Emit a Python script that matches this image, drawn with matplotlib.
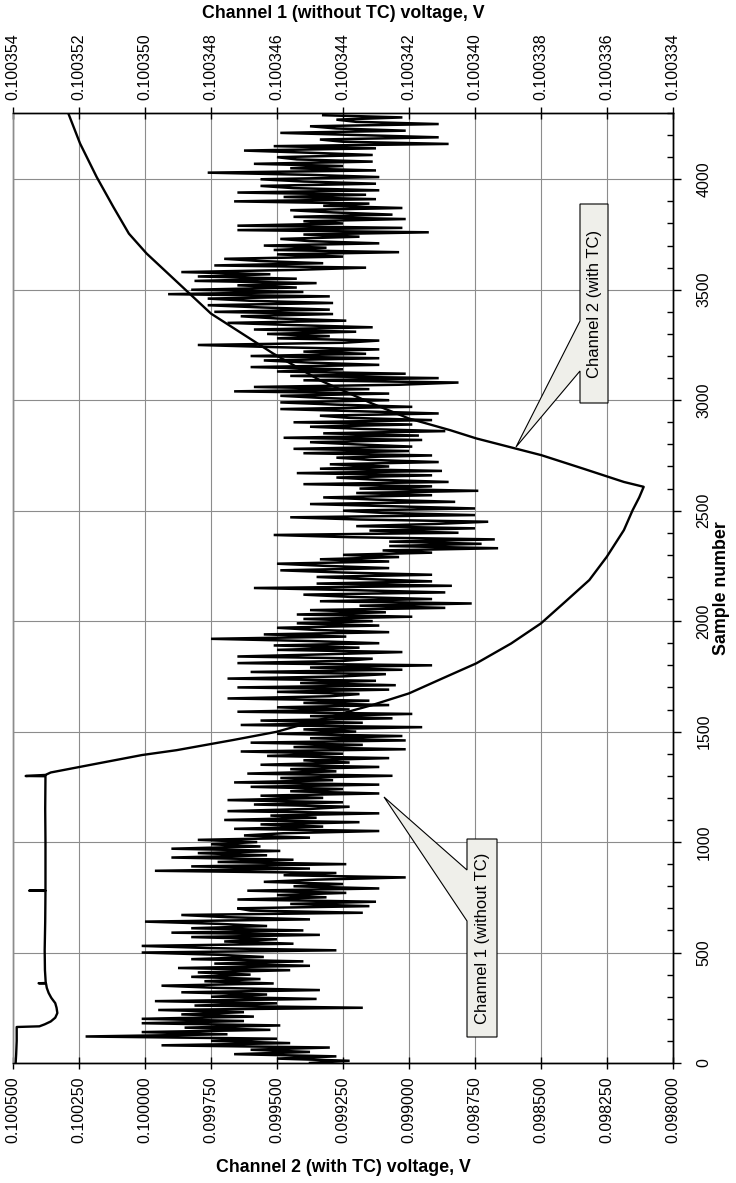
import numpy as np
import matplotlib
matplotlib.use("Agg")
import matplotlib.pyplot as plt
from matplotlib.patches import Polygon

plt.rcParams["font.family"] = ["Liberation Sans", "DejaVu Sans"]

W, H = 736, 1183

# channel 1 (without TC): one reading every 10 samples, in uV above 0.1003 V
ch1_step = 10
ch1_uv = [
    45.0, 43.8, 46.0, 44.2, 47.3, 45.0, 46.8, 44.4, 49.5, 45.6,
    48.0, 46.0, 51.8, 47.5, 50.1, 46.2, 48.8, 45.9, 50.1, 47.0,
    50.1, 46.7, 48.9, 47.0, 49.6, 43.4, 48.5, 46.0, 49.7, 44.8,
    48.0, 46.3, 48.9, 44.7, 47.8, 49.5, 46.1, 48.2, 46.5, 48.6,
    46.8, 48.4, 45.6, 49.0, 45.0, 47.9, 45.2, 48.6, 46.4, 47.8,
    50.1, 44.2, 48.0, 50.1, 45.5, 47.6, 46.0, 48.6, 44.7, 49.2,
    45.2, 48.6, 46.3, 47.8, 50.0, 45.0, 47.5, 48.9, 43.4, 46.8,
    47.2, 43.2, 45.6, 43.0, 47.2, 44.5, 46.0, 43.9, 46.9, 42.9,
    45.5, 44.0, 46.4, 44.8, 42.1, 45.8, 44.2, 49.7, 45.0, 48.6,
    43.9, 47.8, 45.5, 49.2, 46.3, 48.4, 45.9, 49.2, 46.5, 48.0,
    46.6, 48.4, 45.0, 47.0, 45.8, 42.9, 47.3, 44.6, 46.5, 43.5,
    47.6, 44.8, 46.2, 42.9, 47.5, 45.0, 43.8, 46.7, 44.0, 47.5,
    44.6, 46.5, 42.9, 45.6, 44.0, 46.8, 42.9, 47.3, 44.3, 45.9,
    42.5, 46.9, 44.2, 45.6, 42.9, 46.5, 43.8, 45.2, 42.6, 46.3,
    44.0, 47.1, 42.1, 45.5, 43.4, 46.8, 42.1, 45.0, 42.2, 46.0,
    43.6, 45.2, 41.6, 47.1, 43.4, 46.5, 42.5, 45.0, 41.9, 47.2,
    43.8, 46.0, 42.6, 45.2, 43.2, 47.5, 44.4, 43.5, 46.0, 42.6,
    47.2, 42.4, 45.3, 43.0, 47.5, 44.0, 42.7, 46.8, 42.2, 45.0,
    41.3, 47.2, 44.0, 43.1, 47.2, 44.5, 42.2, 46.0, 43.5, 46.1,
    42.9, 45.0, 48.0, 43.9, 46.4, 42.6, 44.8, 46.0, 42.9, 45.4,
    43.1, 45.2, 41.9, 45.4, 42.7, 45.0, 40.9, 43.5, 40.1, 44.7,
    41.3, 43.8, 45.2, 40.9, 43.6, 46.7, 40.7, 44.8, 41.3, 43.2,
    44.8, 41.3, 44.0, 45.9, 42.6, 44.5, 46.0, 42.6, 44.7, 42.3,
    44.0, 41.3, 42.8, 39.3, 42.6, 39.8, 42.6, 39.4, 43.8, 46.1,
    40.5, 43.2, 40.0, 43.6, 41.2, 39.6, 43.5, 45.6, 40.0, 42.8,
    44.0, 40.0, 42.5, 45.0, 40.6, 43.0, 44.6, 41.3, 43.6, 39.9,
    43.5, 41.3, 45.2, 40.8, 43.0, 44.2, 41.3, 45.4, 41.0, 44.7,
    42.6, 44.4, 41.1, 43.2, 44.2, 41.3, 45.2, 42.0, 45.5, 41.9,
    43.6, 45.0, 41.6, 45.8, 41.7, 44.6, 40.9, 43.4, 45.0, 41.9,
    45.5, 41.3, 43.8, 44.7, 41.1, 43.5, 45.9, 41.9, 44.2, 45.9,
    42.6, 44.6, 45.9, 42.6, 47.3, 43.2, 46.7, 42.3, 40.5, 45.2,
    41.1, 45.6, 42.1, 46.0, 44.0, 46.8, 42.9, 45.0, 46.4, 42.9,
    46.8, 43.3, 45.2, 42.9, 46.0, 48.4, 44.0, 42.9, 46.0, 44.4,
    46.3, 43.6, 46.7, 43.1, 45.5, 47.5, 43.9, 46.0, 47.1, 44.3,
    47.9, 44.4, 46.5, 48.1, 44.3, 46.8, 48.1, 44.4, 49.3, 45.2,
    48.6, 45.4, 47.2, 44.8, 48.5, 45.4, 48.4, 46.2, 48.9, 45.4,
    43.3, 47.9, 44.6, 46.5, 47.6, 44.0, 46.0, 42.3, 46.1, 44.5,
    46.4, 42.9, 45.0, 45.9, 43.5, 45.2, 41.4, 47.2, 42.2, 47.2,
    44.0, 45.2, 42.1, 45.5, 42.5, 44.3, 45.6, 42.2, 44.6, 43.2,
    47.3, 43.0, 45.8, 43.3, 47.2, 42.9, 45.5, 46.5, 43.0, 45.2,
    46.5, 42.9, 45.0, 48.1, 43.0, 45.6, 44.0, 46.7, 43.1, 45.4,
    46.0, 43.1, 45.0, 47.0, 43.0, 46.1, 40.8, 44.0, 44.7, 41.1,
    43.5, 45.9, 42.1, 44.2, 45.0, 41.1, 43.6, 44.2, 42.2, 44.6,
]

# channel 2 (with TC): sample number and voltage, V
ch2_sample = [
    0, 40, 100, 163, 166, 175, 188, 205, 226, 250, 271, 295, 317, 340,
    360, 361, 362, 420, 511, 640, 779, 780, 781, 1000, 1150, 1298, 1299,
    1304, 1315, 1356, 1394, 1416, 1462, 1499, 1560, 1620, 1673, 1741,
    1809, 1899, 1990, 2088, 2186, 2291, 2412, 2502, 2560, 2608, 2630,
    2691, 2751, 2827, 2864, 2917, 2985, 3090, 3211, 3392, 3664,
    3754, 3875, 4010, 4162, 4300,
]
ch2_volt = [
    0.100490, 0.100488, 0.100486, 0.100486, 0.100400, 0.100380, 0.100357,
    0.100340, 0.100332, 0.100335, 0.100340, 0.100355, 0.100365, 0.100372,
    0.100375, 0.100403, 0.100376, 0.100379, 0.100380, 0.100378, 0.100377,
    0.100439, 0.100377, 0.100377, 0.100378, 0.100377, 0.100452, 0.100377,
    0.100357, 0.100178, 0.100011, 0.099880, 0.099666, 0.099502, 0.099320,
    0.099140, 0.099000, 0.098873, 0.098745, 0.098613, 0.098500, 0.098408,
    0.098317, 0.098251, 0.098186, 0.098153, 0.098128, 0.098111, 0.098186,
    0.098342, 0.098498, 0.098745, 0.098843, 0.099000, 0.099140, 0.099337,
    0.099514, 0.099750, 0.099994, 0.100061, 0.100120, 0.100183,
    0.100246, 0.100291,
]

ch2_ticks = [0.100500, 0.100250, 0.100000, 0.099750, 0.099500, 0.099250,
             0.099000, 0.098750, 0.098500, 0.098250, 0.098000]
ch1_ticks = [0.100354, 0.100352, 0.100350, 0.100348, 0.100346, 0.100344,
             0.100342, 0.100340, 0.100338, 0.100336, 0.100334]
sample_ticks = [0, 500, 1000, 1500, 2000, 2500, 3000, 3500, 4000]
sample_max = 4300

ch1_samples = np.arange(len(ch1_uv)) * ch1_step
ch1_volt = 0.1003 + np.array(ch1_uv) * 1e-6

fig = plt.figure(figsize=(W / 100, H / 100), dpi=100)
fig.patch.set_facecolor("white")

# plot frame in pixels: left 13, right 673, top 113, bottom 1063
left, right, top, bottom = 13, 673, 113, 1063
ax = fig.add_axes([left / W, 1 - bottom / H, (right - left) / W, (bottom - top) / H])
ax2 = ax.twiny()

grid_c = "#8c8c8c"
ax.set_xlim(ch2_ticks[0], ch2_ticks[-1])
ax.set_ylim(0, sample_max)
ax2.set_xlim(ch1_ticks[0], ch1_ticks[-1])

ax.set_xticks(ch2_ticks)
ax.set_xticklabels([f"{v:.6f}" for v in ch2_ticks])
ax2.set_xticks(ch1_ticks)
ax2.set_xticklabels([f"{v:.6f}" for v in ch1_ticks])
ax.set_yticks(sample_ticks)
ax.set_yticks(np.arange(0, sample_max + 1, 100), minor=True)
ax.yaxis.tick_right()

for a in (ax, ax2):
    for s in a.spines.values():
        s.set_color("black")
        s.set_linewidth(1.0)
    a.spines["left"].set_color(grid_c)

ax.grid(True, which="major", color=grid_c, linewidth=0.8)
ax.set_axisbelow(True)

tick_fs = 11.5
ax.tick_params(axis="x", direction="inout", length=9, width=1.0, pad=5,
               labelsize=tick_fs, labelrotation=90, bottom=True, top=False)
ax2.tick_params(axis="x", direction="inout", length=9, width=1.0, pad=5,
                labelsize=tick_fs, labelrotation=90)
ax.tick_params(axis="y", which="major", direction="out", length=6, width=1.0,
               pad=11, labelsize=tick_fs, labelrotation=90, right=True, left=False,
               labelright=True, labelleft=False)
ax.tick_params(axis="y", which="minor", direction="in", length=4, width=1.0,
               right=True, left=False)
for lab in ax.get_yticklabels():
    lab.set_verticalalignment("center")

ax.plot(ch2_volt, ch2_sample, color="black", linewidth=1.7, zorder=3)
ax2.plot(ch1_volt, ch1_samples, color="black", linewidth=1.8, zorder=2,
         solid_joinstyle="miter")

fig.text((left + right) / 2 / W, 1 - 14 / H, "Channel 1 (without TC) voltage, V",
         ha="center", va="center", fontsize=12.8, fontweight="bold")
fig.text((left + right) / 2 / W, 1 - 1167 / H, "Channel 2 (with TC) voltage, V",
         ha="center", va="center", fontsize=12.8, fontweight="bold")
fig.text(722 / W, 1 - (top + bottom) / 2 / H, "Sample number", rotation=90,
         ha="center", va="center", fontsize=12.8, fontweight="bold")


def px(x, y):
    return (x / W, 1 - y / H)


def callout(box, base, tip, text):
    x0, y0, x1, y1 = box
    pts = [(x0, y0), (x1, y0), (x1, y1), (x0, y1), (x0, base[1]), tip, (x0, base[0])]
    poly = Polygon([px(*p) for p in pts], closed=True, transform=fig.transFigure,
                   facecolor="#efefea", edgecolor="black", linewidth=0.8, zorder=5)
    fig.patches.append(poly)
    cx, cy = px((x0 + x1) / 2, (y0 + y1) / 2)
    fig.text(cx, cy, text, rotation=90, ha="center", va="center", fontsize=12,
             zorder=6)


callout((580, 204, 608, 403), (321, 371), (516, 447), "Channel 2 (with TC)")
callout((467, 839, 497, 1037), (870, 921), (384, 797), "Channel 1 (without TC)")

fig.savefig("out.png", dpi=100)
